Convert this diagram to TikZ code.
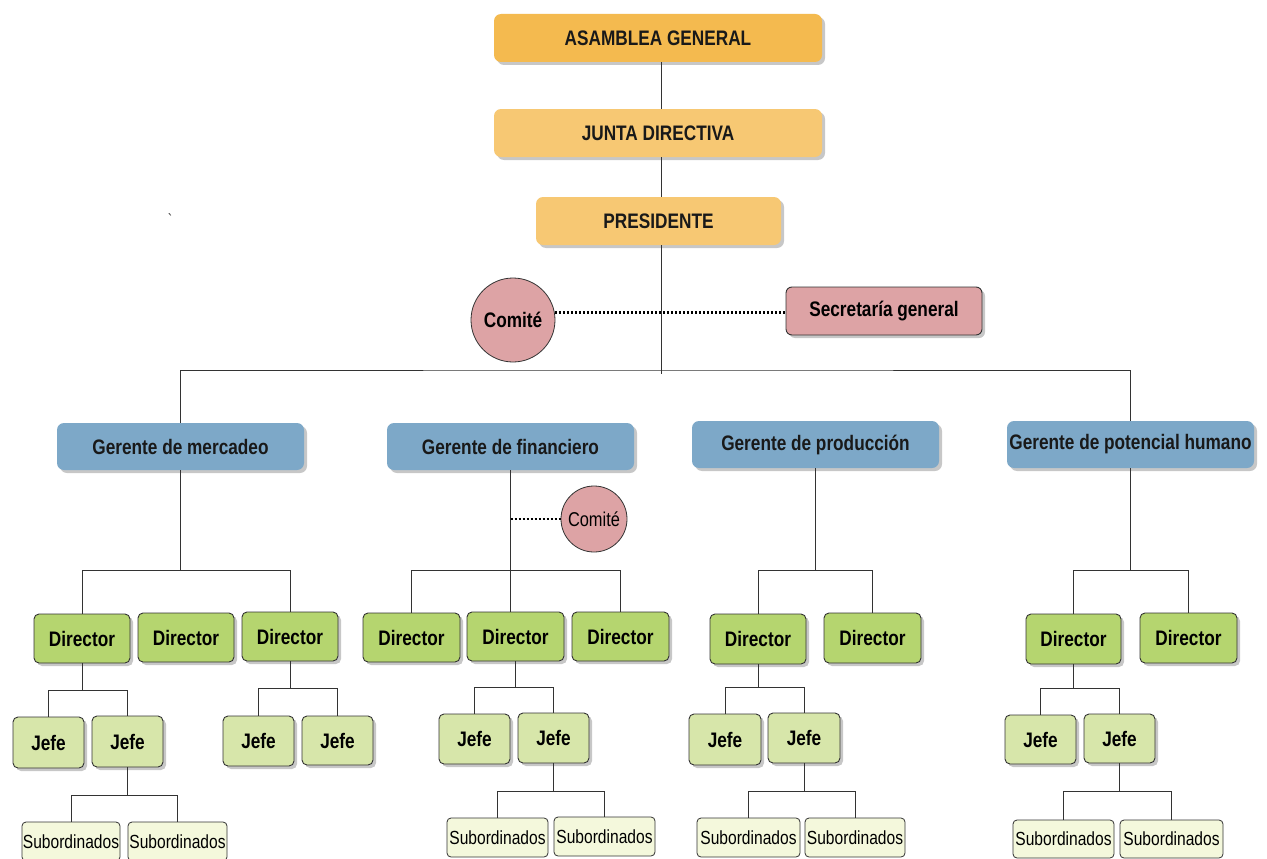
\documentclass[tikz,border=0pt]{standalone}
\usepackage{fontspec}
\newfontfamily\nar[FakeStretch=0.82]{Liberation Sans}
\usetikzlibrary{shadows}
\definecolor{orA}{HTML}{F4BA4F}
\definecolor{orB}{HTML}{F7C873}
\definecolor{pinkC}{HTML}{DDA3A5}
\definecolor{blueG}{HTML}{7DA8C8}
\definecolor{greenD}{HTML}{B5D56F}
\definecolor{greenJ}{HTML}{D7E6AA}
\definecolor{greenS}{HTML}{F4F8DC}
\definecolor{lineC}{HTML}{333333}
\tikzset{
  bfont/.style={font=\fontsize{21}{24}\selectfont\nar\bfseries},
  rfont/.style={font=\fontsize{19}{22}\selectfont\nar},
  shad/.style={drop shadow={shadow xshift=3pt,shadow yshift=-3pt,fill=black,opacity=0.22}},
  topbox/.style={bfont,shad,rounded corners=7pt,inner sep=0pt,text=black!90},
  gerbox/.style={bfont,shad,fill=blueG,rounded corners=7pt,inner sep=0pt,text=black!90},
  dirbox/.style={bfont,shad,fill=greenD,draw=lineC,line width=0.9pt,rounded corners=5pt,inner sep=0pt},
  jefebox/.style={bfont,shad,fill=greenJ,draw=lineC,line width=0.9pt,rounded corners=5pt,inner sep=0pt},
  subbox/.style={rfont,fill=greenS,draw=lineC,line width=0.8pt,rounded corners=4pt,inner sep=0pt},
  secbox/.style={bfont,shad,fill=pinkC,draw=lineC,line width=0.9pt,rounded corners=6pt,inner sep=0pt},
  comcirc/.style={circle,fill=pinkC,draw=lineC,line width=0.8pt,inner sep=0pt},
  conn/.style={draw=lineC,line width=0.9pt},
  dotline/.style={draw=black,line width=2.6pt,dash pattern=on 2.4pt off 1.6pt},
}
% style, name, x1, y1, x2, y2, text
\newcommand\boxat[7]{%
  \node[#1,minimum width={(#5-#3)*1pt},minimum height={(#6-#4)*1pt}] (#2) at ({(#3+#5)/2},{(#4+#6)/2}) {#7};}
\newcommand\branch[3]{%
  \draw[conn] (#1.south) -- (#1.south |- 0,#2);
  \foreach \c in {#3} {\draw[conn] (\c.north) |- (#1.south |- 0,#2);}}
\begin{document}
\begin{tikzpicture}[x=1pt,y=-1pt]
\useasboundingbox[fill=white] (0,0) rectangle (1267,859);

% top
\boxat{topbox,fill=orA}{ag}{494}{14}{822}{62}{ASAMBLEA GENERAL}
\boxat{topbox,fill=orB}{jd}{494}{109}{822}{157}{JUNTA DIRECTIVA}
\boxat{topbox,fill=orB}{pr}{536}{197}{781}{245}{PRESIDENTE}
\node[font=\fontsize{16}{16}\selectfont\nar,text=black!80,inner sep=0pt] (tick) at (170,220) {\char"60};
\coordinate (pe) at (661,374);
\coordinate (hl) at (661,370);
\draw[conn] (ag.south -| hl) -- (jd.north -| hl);
\draw[conn] (jd.south -| hl) -- (pr.north -| hl);
\draw[conn] (pr.south -| hl) -- (pe);

\node[comcirc,bfont,minimum size=84pt] (com1) at (513,320) {Comité};
\boxat{secbox}{sec}{786}{287}{982}{335}{Secretaría general}
\draw[dotline] (com1.10) -- (com1.10 -| sec.west);

% gerentes
\boxat{gerbox}{gm}{57}{423}{304}{470}{Gerente de mercadeo}
\boxat{gerbox}{gf}{387}{423}{634}{470}{Gerente de financiero}
\boxat{gerbox}{gp}{692}{421}{939}{468}{Gerente de producción}
\boxat{gerbox}{gh}{1007}{421}{1254}{468}{Gerente de potencial humano}
\draw[conn] (gm.north) |- (hl) -| (gh.north);

% mercadeo
\boxat{dirbox}{dm1}{34}{614}{130}{663}{Director}
\boxat{dirbox}{dm2}{138}{613}{234}{662}{Director}
\boxat{dirbox}{dm3}{242}{612}{338}{661}{Director}
\branch{gm}{570}{dm1,dm3}
\boxat{jefebox}{jm1}{13}{717}{84}{768}{Jefe}
\boxat{jefebox}{jm2}{92}{716}{163}{767}{Jefe}
\branch{dm1}{690}{jm1,jm2}
\boxat{jefebox}{jm3}{223}{716}{294}{766}{Jefe}
\boxat{jefebox}{jm4}{302}{716}{373}{765}{Jefe}
\branch{dm3}{688}{jm3,jm4}
\boxat{subbox}{sm1}{22}{822}{120}{861}{Subordinados}
\boxat{subbox}{sm2}{128}{822}{227}{861}{Subordinados}
\branch{jm2}{795}{sm1,sm2}

% financiero
\boxat{dirbox}{df1}{363}{613}{460}{662}{Director}
\boxat{dirbox}{df2}{467}{612}{564}{661}{Director}
\boxat{dirbox}{df3}{572}{612}{669}{661}{Director}
\branch{gf}{570}{df1,df3}
\draw[conn] (gf.south) -- (gf.south |- df2.north);
\node[comcirc,rfont,font=\fontsize{20}{22}\selectfont\nar,minimum size=66pt] (com2) at (594,519) {Comité};
\draw[dotline] (gf.south |- com2.west) -- (com2.west);
\boxat{jefebox}{jf1}{439}{714}{510}{764}{Jefe}
\boxat{jefebox}{jf2}{518}{713}{589}{763}{Jefe}
\branch{df2}{687}{jf1,jf2}
\boxat{subbox}{sf1}{447}{818}{548}{857}{Subordinados}
\boxat{subbox}{sf2}{554}{817}{655}{856}{Subordinados}
\branch{jf2}{791}{sf1,sf2}

% produccion
\boxat{dirbox}{dp1}{710}{614}{806}{664}{Director}
\boxat{dirbox}{dp2}{824}{613}{921}{663}{Director}
\branch{gp}{570}{dp1,dp2}
\boxat{jefebox}{jp1}{689}{714}{761}{765}{Jefe}
\boxat{jefebox}{jp2}{768}{713}{840}{763}{Jefe}
\branch{dp1}{687}{jp1,jp2}
\boxat{subbox}{sp1}{697}{818}{800}{857}{Subordinados}
\boxat{subbox}{sp2}{805}{818}{905}{857}{Subordinados}
\branch{jp2}{791}{sp1,sp2}

% potencial humano
\boxat{dirbox}{dh1}{1026}{614}{1121}{664}{Director}
\boxat{dirbox}{dh2}{1140}{613}{1237}{663}{Director}
\branch{gh}{570}{dh1,dh2}
\boxat{jefebox}{jh1}{1005}{715}{1076}{764}{Jefe}
\boxat{jefebox}{jh2}{1084}{714}{1155}{763}{Jefe}
\branch{dh1}{688}{jh1,jh2}
\boxat{subbox}{sh1}{1013}{820}{1114}{858}{Subordinados}
\boxat{subbox}{sh2}{1120}{820}{1223}{858}{Subordinados}
\branch{jh2}{791}{sh1,sh2}
\end{tikzpicture}
\end{document}
